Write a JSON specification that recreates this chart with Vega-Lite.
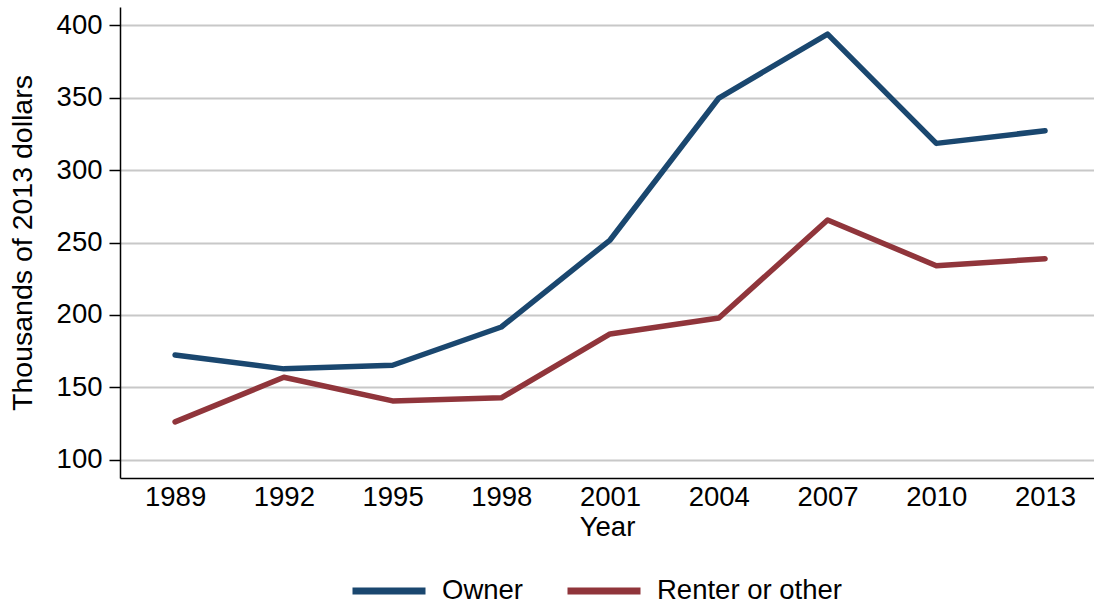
{
  "$schema": "https://vega.github.io/schema/vega-lite/v6.json",
  "width": 974,
  "height": 471,
  "autosize": {"type": "none"},
  "padding": {"left": 120, "top": 7, "right": 0, "bottom": 127},
  "background": "white",
  "config": {
    "font": "Liberation Sans",
    "view": {"stroke": null},
    "axis": {"labelFont": "Liberation Sans", "titleFont": "Liberation Sans", "labelColor": "black", "titleColor": "black", "titleFontWeight": "normal"}
  },
  "data": {
    "values": [
      {"year": 1989, "series": "Owner", "value": 172.4},
      {"year": 1992, "series": "Owner", "value": 162.8},
      {"year": 1995, "series": "Owner", "value": 165.3},
      {"year": 1998, "series": "Owner", "value": 191.7},
      {"year": 2001, "series": "Owner", "value": 251.7},
      {"year": 2004, "series": "Owner", "value": 349.7},
      {"year": 2007, "series": "Owner", "value": 393.8},
      {"year": 2010, "series": "Owner", "value": 318.4},
      {"year": 2013, "series": "Owner", "value": 327.1},
      {"year": 1989, "series": "Renter or other", "value": 126.2},
      {"year": 1992, "series": "Renter or other", "value": 157.0},
      {"year": 1995, "series": "Renter or other", "value": 140.7},
      {"year": 1998, "series": "Renter or other", "value": 142.8},
      {"year": 2001, "series": "Renter or other", "value": 186.9},
      {"year": 2004, "series": "Renter or other", "value": 197.9},
      {"year": 2007, "series": "Renter or other", "value": 265.5},
      {"year": 2010, "series": "Renter or other", "value": 234.0},
      {"year": 2013, "series": "Renter or other", "value": 238.8}
    ]
  },
  "mark": {"type": "line", "strokeWidth": 5.5, "strokeCap": "round", "strokeJoin": "round"},
  "encoding": {
    "x": {
      "field": "year",
      "type": "quantitative",
      "scale": {"domain": [1987.48, 2014.35], "nice": false, "zero": false},
      "axis": {
        "title": "Year",
        "values": [1989, 1992, 1995, 1998, 2001, 2004, 2007, 2010, 2013],
        "format": "d",
        "grid": false,
        "ticks": false,
        "labelFontSize": 27.5,
        "titleFontSize": 27.5,
        "labelPadding": 5,
        "titlePadding": 3,
        "domainColor": "black",
        "domainWidth": 1.5,
        "labelFlush": false
      }
    },
    "y": {
      "field": "value",
      "type": "quantitative",
      "scale": {"domain": [87.5, 412.5], "nice": false, "zero": false},
      "axis": {
        "title": "Thousands of 2013 dollars",
        "values": [100, 150, 200, 250, 300, 350, 400],
        "grid": true,
        "gridColor": "#c8c8c8",
        "gridWidth": 2,
        "tickColor": "black",
        "tickSize": 11,
        "tickWidth": 1.5,
        "domainColor": "black",
        "domainWidth": 1.5,
        "labelFontSize": 27.5,
        "titleFontSize": 28.5,
        "labelPadding": 7,
        "titlePadding": 19,
        "labelFlush": false
      }
    },
    "color": {
      "field": "series",
      "type": "nominal",
      "scale": {"domain": ["Owner", "Renter or other"], "range": ["#1a476f", "#90353b"]},
      "legend": {
        "title": null,
        "orient": "none",
        "legendX": 229,
        "legendY": 544,
        "direction": "horizontal",
        "symbolType": "stroke",
        "symbolSize": 5329,
        "symbolStrokeWidth": 7,
        "labelFontSize": 27.5,
        "labelFont": "Liberation Sans",
        "labelColor": "black",
        "labelOffset": 13,
        "columnPadding": 30,
        "labelLimit": 400
      }
    }
  }
}
